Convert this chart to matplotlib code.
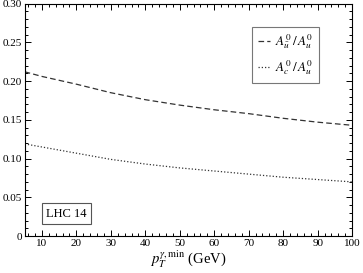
import numpy as np
import matplotlib
matplotlib.use("Agg")
import matplotlib.pyplot as plt
from matplotlib.ticker import MultipleLocator, FuncFormatter

plt.rcParams['font.family'] = ['Liberation Serif', 'DejaVu Serif']
plt.rcParams['mathtext.fontset'] = 'stix'

# values
pt_min = [5, 10, 20, 30, 40, 50, 60, 70, 80, 90, 100]
ratio_ubar = [0.212, 0.206, 0.196, 0.185, 0.176, 0.169, 0.163, 0.158, 0.152, 0.147, 0.143]
ratio_c = [0.119, 0.115, 0.107, 0.099, 0.093, 0.088, 0.084, 0.080, 0.076, 0.073, 0.070]

fig = plt.figure(figsize=(3.63, 2.73), dpi=100)
ax = fig.add_axes([0.068, 0.135, 0.902, 0.852])

ax.plot(pt_min, ratio_ubar, color='#333333', lw=0.9, ls=(0, (4.5, 2.5)),
        label=r'$A_{\bar{u}}^{0}\,/\,A_{u}^{0}$')
ax.plot(pt_min, ratio_c, color='#333333', lw=0.9, ls=(0, (1, 1.6)),
        label=r'$A_{c}^{0}\,/\,A_{u}^{0}$')

ax.set_xlim(5, 100)
ax.set_ylim(0, 0.30)
ax.xaxis.set_major_locator(MultipleLocator(10))
ax.xaxis.set_minor_locator(MultipleLocator(2))
ax.yaxis.set_major_locator(MultipleLocator(0.05))
ax.yaxis.set_minor_locator(MultipleLocator(0.01))
ax.yaxis.set_major_formatter(FuncFormatter(lambda v, p: '0' if abs(v) < 1e-9 else '%.2f' % v))
ax.tick_params(which='both', direction='in', top=True, right=True, labelsize=8, pad=2)
ax.tick_params(which='major', length=4.5, width=0.7)
ax.tick_params(which='minor', length=2.3, width=0.7)
for s in ax.spines.values():
    s.set_linewidth(0.8)

ax.set_xlabel(r'$p_T^{\gamma,\mathrm{min}}$ (GeV)', fontsize=10.5, labelpad=0)

leg = ax.legend(loc='upper right', bbox_to_anchor=(0.9, 0.9), fontsize=9.5,
                frameon=True, fancybox=False, edgecolor='#555555',
                handlelength=0.9, handletextpad=0.4, borderpad=0.45,
                labelspacing=0.5, borderaxespad=0)
leg.get_frame().set_linewidth(0.8)

ax.text(0.065, 0.07, 'LHC 14', transform=ax.transAxes, fontsize=9,
        ha='left', va='bottom',
        bbox=dict(boxstyle='square,pad=0.35', fc='white', ec='#555555', lw=0.8))

fig.savefig('out.png', dpi=100)
